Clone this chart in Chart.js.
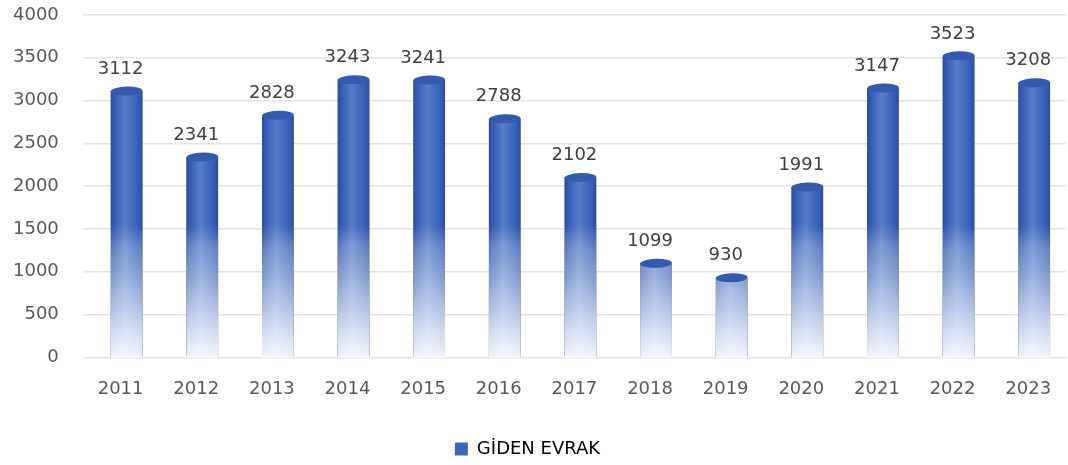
<!DOCTYPE html>
<html>
<head>
<meta charset="utf-8">
<script src="https://cdn.jsdelivr.net/npm/chart.js@4.4.0/dist/chart.umd.min.js"></script>
<style>
  html, body { margin: 0; padding: 0; background: #fff; }
</style>
</head>
<body>
<canvas id="chart" width="1068" height="465"></canvas>
<script>
const years = ['2011', '2012', '2013', '2014', '2015', '2016', '2017', '2018', '2019', '2020', '2021', '2022', '2023'];
const gidenEvrak = [3112, 2341, 2828, 3243, 3241, 2788, 2102, 1099, 930, 1991, 3147, 3523, 3208];
const seriesName = 'GİDEN EVRAK';

const FONT = 'DejaVu Sans';
const FSIZE = 18;
const BLUE = 'rgb(62,104,192)';
const DEPTH = 6; // 3d look: cylinders sit a little right of the category centre

// cylinder shading, white wash toward the base, top caps and value labels
const cylinder = {
    id: 'cylinder',
    afterDatasetsUpdate(chart) {
        chart.getDatasetMeta(0).data.forEach(bar => { bar.x += DEPTH; });
    },
    afterDatasetsDraw(chart) {
        const ctx = chart.ctx;
        const y = chart.scales.y;
        const meta = chart.getDatasetMeta(0);
        meta.data.forEach((bar, i) => {
            const w = bar.width;
            const left = bar.x - w / 2;
            const bottom = bar.base;
            ctx.save();
            const h = ctx.createLinearGradient(left, 0, left + w, 0);
            h.addColorStop(0, 'rgba(20,45,110,0.5)');
            h.addColorStop(0.18, 'rgba(30,60,140,0.12)');
            h.addColorStop(0.45, 'rgba(255,255,255,0.14)');
            h.addColorStop(0.8, 'rgba(30,60,140,0.12)');
            h.addColorStop(1, 'rgba(20,45,110,0.45)');
            ctx.fillStyle = h;
            ctx.fillRect(left, bar.y, w, bottom - bar.y);

            const top = y.getPixelForValue(1550);
            const v = ctx.createLinearGradient(0, top, 0, bottom);
            const s = val => (y.getPixelForValue(val) - top) / (bottom - top);
            v.addColorStop(0, 'rgba(255,255,255,0)');
            v.addColorStop(s(1300), 'rgba(255,255,255,0.24)');
            v.addColorStop(s(900), 'rgba(255,255,255,0.44)');
            v.addColorStop(s(450), 'rgba(255,255,255,0.7)');
            v.addColorStop(1, 'rgba(255,255,255,0.93)');
            ctx.fillStyle = v;
            const t = Math.max(bar.y, top);
            ctx.fillRect(left, t, w, bottom - t + 1);
            ctx.restore();

            ctx.save();
            ctx.beginPath();
            ctx.ellipse(bar.x, bar.y, w / 2, 4.5, -0.03, 0, Math.PI * 2);
            ctx.fillStyle = 'rgb(52,90,174)';
            ctx.fill();
            ctx.restore();

            ctx.save();
            ctx.font = FSIZE + 'px "' + FONT + '"';
            ctx.fillStyle = '#404040';
            ctx.textAlign = 'center';
            ctx.textBaseline = 'middle';
            ctx.fillText(String(gidenEvrak[i]), bar.x - DEPTH, bar.y - 22);
            ctx.restore();
        });
    }
};

new Chart(document.getElementById('chart'), {
    type: 'bar',
    data: {
        labels: years,
        datasets: [{
            label: seriesName,
            data: gidenEvrak,
            backgroundColor: BLUE,
            borderWidth: 0,
            barPercentage: 0.84,
            categoryPercentage: 0.5,
        }]
    },
    options: {
        responsive: false,
        animation: false,
        layout: { padding: { left: -11, right: 2, top: 0, bottom: -3 } },
        plugins: {
            legend: {
                position: 'bottom',
                labels: {
                    color: '#595959',
                    font: { family: FONT, size: FSIZE },
                    boxWidth: 13,
                    boxHeight: 13,
                    padding: 27,
                    generateLabels: chart => [{
                        text: seriesName,
                        fillStyle: BLUE,
                        strokeStyle: BLUE,
                        lineWidth: 0,
                        hidden: false,
                        datasetIndex: 0,
                    }]
                }
            },
            tooltip: { enabled: false },
        },
        scales: {
            x: {
                grid: { display: false },
                border: { display: false },
                ticks: { color: '#595959', font: { family: FONT, size: FSIZE }, padding: 13 },
            },
            y: {
                min: 0,
                max: 4000,
                afterFit: scale => { scale.paddingTop = 15; scale.paddingBottom = 10; },
                ticks: {
                    stepSize: 500,
                    color: '#595959',
                    font: { family: FONT, size: FSIZE },
                    padding: 24,
                    callback: v => String(v),
                },
                grid: { color: '#e4e4e4', lineWidth: 1.5, drawTicks: false },
                border: { display: false },
            }
        }
    },
    plugins: [cylinder]
});
</script>
</body>
</html>
